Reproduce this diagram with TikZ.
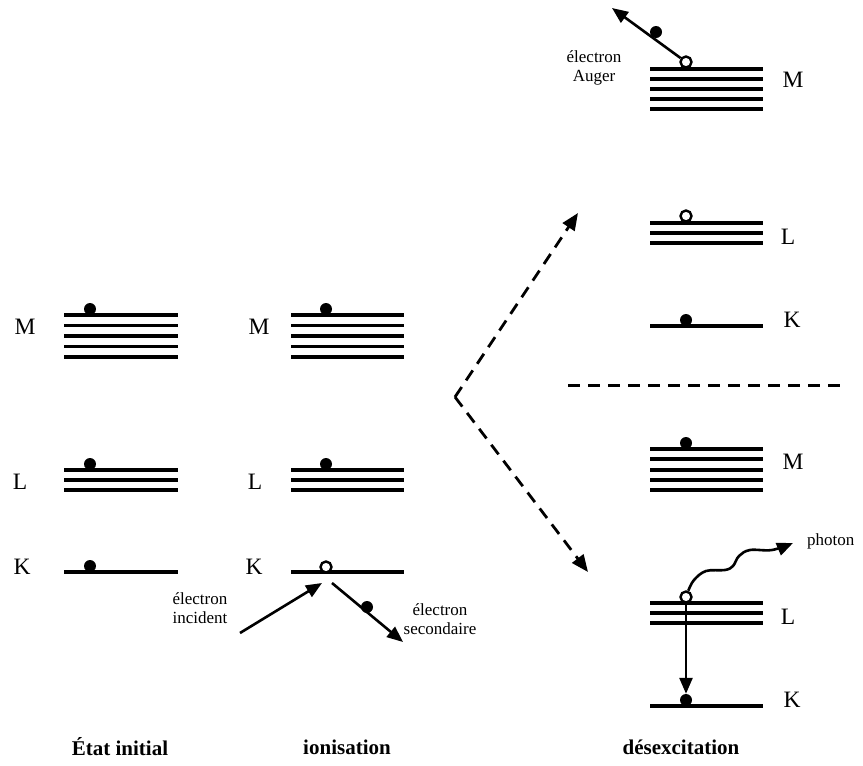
\documentclass[tikz,border=0pt]{standalone}
\usepackage{fontspec}
\setmainfont{Liberation Serif}
\usetikzlibrary{arrows.meta,calc}
\begin{document}
\begin{tikzpicture}[x=1pt,y=-1pt,
 level/.style={line width=3.6pt},
 dot/.style={circle,fill=black,inner sep=0pt,minimum size=12pt},
 hole/.style={circle,draw=black,fill=white,line width=2.4pt,inner sep=0pt,minimum size=11pt},
 arr/.style={line width=2.6pt,-{Triangle[length=16pt,width=13pt]}},
 darr/.style={line width=2.8pt,dash pattern=on 12pt off 8pt,-{Triangle[length=17pt,width=14pt]}},
 sep/.style={line width=3pt,dash pattern=on 12pt off 8pt},
 lab/.style={font=\fontsize{23.5}{26}\selectfont,inner sep=0pt},
 small/.style={font=\fontsize{17}{19}\selectfont,align=center,inner sep=0pt},
 title/.style={font=\bfseries\fontsize{21}{24}\selectfont,inner sep=0pt}]
\useasboundingbox (0,0) rectangle (863,766);

% ---------- column 1 : etat initial ----------
\foreach \y in {315,325.5,336,346.5,357} \draw[level] (64,\y) -- (178,\y);
\foreach \y in {470,480,490} \draw[level] (64,\y) -- (178,\y);
\draw[level] (64,572) -- (178,572);
\node[dot] (d1) at (90,309) {};
\node[dot] (d2) at (90,464) {};
\node[dot] (d3) at (90,566) {};
\node[lab] (m1) at (25,327) {M};
\node[lab] (l1) at (20,482) {L};
\node[lab] (k1) at (22,567) {K};

% ---------- column 2 : ionisation ----------
\foreach \y in {315,325.5,336,346.5,357} \draw[level] (291,\y) -- (404,\y);
\foreach \y in {470,480,490} \draw[level] (291,\y) -- (404,\y);
\draw[level] (291,572) -- (404,572);
\node[dot] (d4) at (326,309) {};
\node[dot] (d5) at (326,464) {};
\node[lab] (m2) at (259,327) {M};
\node[lab] (l2) at (255,482) {L};
\node[lab] (k2) at (254,567) {K};
\coordinate (ie0) at (240,633);
\coordinate (ie1) at (322,583);
\coordinate (se0) at (332,583);
\coordinate (se1) at (403,642);
\draw[arr] (ie0) -- (ie1);
\draw[arr] (se0) -- (se1);
\node[hole] (h1) at (326,567) {};
\node[dot] (d6) at (367,607) {};
\node[small] (inc) at (200,608) {électron\\incident};
\node[small] (sec) at (440,619) {électron\\secondaire};

% ---------- dashed branching ----------
\coordinate (v) at (455,397);
\coordinate (vu) at (578,213);
\coordinate (vd) at (588,572);
\draw[darr] (v) -- (vu);
\draw[darr] (v) -- (vd);
\coordinate (s0) at (568,385);
\coordinate (s1) at (845,385);
\draw[sep] (s0) -- (s1);

% ---------- column 3 top : Auger ----------
\foreach \y in {69,79,89,99,109} \draw[level] (650,\y) -- (763,\y);
\foreach \y in {223,233,243} \draw[level] (650,\y) -- (763,\y);
\draw[level] (650,326) -- (763,326);
\node[hole] (h2) at (686,62) {};
\node[hole] (h3) at (686,216) {};
\node[dot] (d7) at (686,320) {};
\coordinate (ae) at (612,8);
\draw[arr] (h2) -- (ae);
\node[dot] (d8) at (656,32) {};
\node[lab] (m3) at (793,80) {M};
\node[lab] (l3) at (788,237) {L};
\node[lab] (k3) at (792,320) {K};
\node[small] (aug) at (594,68) {électron\\Auger};

% ---------- column 3 bottom : photon ----------
\foreach \y in {449,459,470,480,490} \draw[level] (650,\y) -- (763,\y);
\foreach \y in {603,613,623} \draw[level] (650,\y) -- (763,\y);
\draw[level] (650,706) -- (763,706);
\node[dot] (d9) at (686,443) {};
\node[hole] (h4) at (686,597) {};
\node[dot] (d10) at (686,700) {};
\draw[arr] (h4) -- (d10);
\draw[arr] plot[smooth,tension=0.6] coordinates {(h4.70) (694,580) (706,571) (725,570) (733,566) (739,556) (750,550) (772,550) (793,543)};
\node[lab] (m4) at (793,462) {M};
\node[lab] (l4) at (788,617) {L};
\node[lab] (k4) at (792,700) {K};
\node[small,anchor=west] (ph) at (807,541) {photon};

% ---------- titles ----------
\node[title] (t1) at (120,747) {État initial};
\node[title] (t2) at (347,747) {ionisation};
\node[title] (t3) at (681,747) {désexcitation};
\end{tikzpicture}
\end{document}
